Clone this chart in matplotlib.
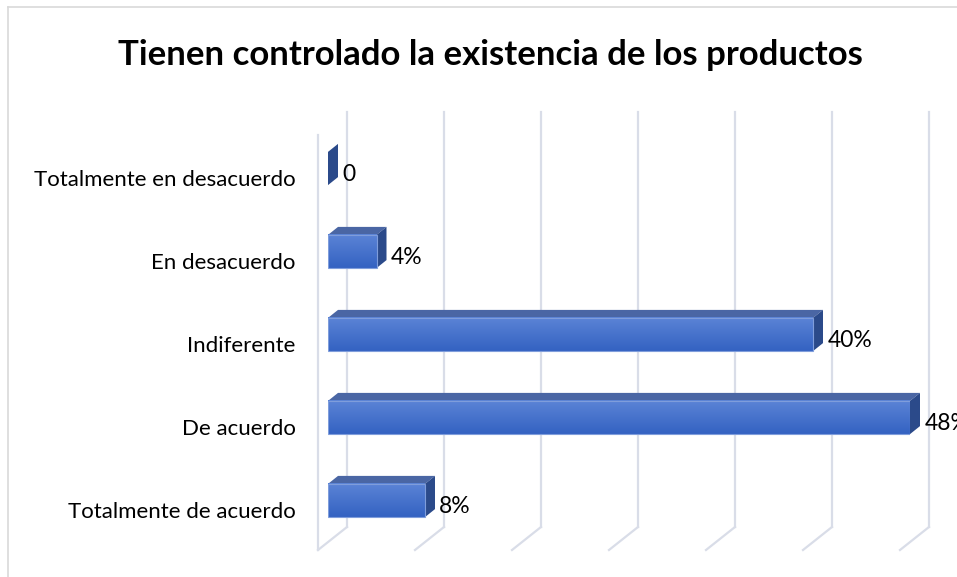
import matplotlib.pyplot as plt
import matplotlib.colors as mcolors
from matplotlib.patches import Polygon, Rectangle
import numpy as np

plt.rcParams['font.family'] = ['Lato', 'DejaVu Sans']

# data
categories = ['Totalmente de acuerdo', 'De acuerdo', 'Indiferente',
              'En desacuerdo', 'Totalmente en desacuerdo']
values = [8, 48, 40, 4, 0]
value_labels = ['8%', '48%', '40%', '4%', '0']
grid_ticks = [0, 8, 16, 24, 32, 40, 48]
title = 'Tienen controlado la existencia de los productos'

W, H = 957, 577
fig = plt.figure(figsize=(W / 100, H / 100), dpi=100)

# axes = front plane of the bars
left_px, right_px = 328, 910
top_px, bot_px = 127, 542
ax = fig.add_axes([left_px / W, 1 - bot_px / H,
                   (right_px - left_px) / W, (bot_px - top_px) / H])
ax.set_xlim(0, 48)
ax.set_ylim(-0.5, 4.5)
ax.axis('off')

px_x = (right_px - left_px) / 48.0   # pixels per x unit
px_y = (bot_px - top_px) / 5.0       # pixels per y unit

def off(dx_px, dy_px):
    return dx_px / px_x, dy_px / px_y

back = off(19, 15)      # back wall relative to bar front
front = off(-10, -8)    # front edge of floor
depth = off(10, 8)      # bar depth

grid_col = '#d9dde8'
for g in grid_ticks:
    # back wall gridline
    ax.plot([g + back[0], g + back[0]], [-0.5 + back[1], 4.5 + back[1]],
            color=grid_col, lw=1.6, zorder=1, clip_on=False)
    # floor diagonal
    ax.plot([g + back[0], g + front[0]], [-0.5 + back[1], -0.5 + front[1]],
            color=grid_col, lw=1.6, zorder=1, clip_on=False)
# side wall front edge
ax.plot([front[0], front[0]], [-0.5 + front[1], 4.5 + front[1]],
        color=grid_col, lw=1.6, zorder=1, clip_on=False)

bar_h = 0.4
grad = np.linspace(0, 1, 50).reshape(-1, 1)
cmap = mcolors.LinearSegmentedColormap.from_list('bar', ['#3462c2', '#5b84d6'])
top_col = '#4a66a4'
side_col = '#2b4a8a'

for i, (v, lab) in enumerate(zip(values, value_labels)):
    y0, y1 = i - bar_h / 2, i + bar_h / 2
    dx, dy = depth
    # top face
    ax.add_patch(Polygon([(0, y1), (v, y1), (v + dx, y1 + dy), (dx, y1 + dy)],
                         closed=True, facecolor=top_col, edgecolor='none',
                         zorder=3, clip_on=False))
    # side face
    ax.add_patch(Polygon([(v, y0), (v, y1), (v + dx, y1 + dy), (v + dx, y0 + dy)],
                         closed=True, facecolor=side_col, edgecolor='none',
                         zorder=3, clip_on=False))
    # front face with gradient
    if v > 0:
        ax.imshow(grad, extent=(0, v, y0, y1), origin='lower', cmap=cmap,
                  aspect='auto', zorder=4, interpolation='bilinear')
        ax.add_patch(Rectangle((0, y0), v, bar_h, facecolor='none',
                               edgecolor='#7f9ddb', lw=0.8, zorder=5))
    ax.text(v + dx + 0.35, i - 0.07, lab, ha='left', va='center', fontsize=16.5,
            color='#000000', zorder=6, clip_on=False)

ax.set_xlim(0, 48)
ax.set_ylim(-0.5, 4.5)

for i, c in enumerate(categories):
    ax.text(-2.65, i - 0.14, c, ha='right', va='center', fontsize=16,
            color='#000000', clip_on=False)

fig.text(490 / W, 1 - 55 / H, title, ha='center', va='center',
         fontsize=25, fontweight='bold', color='#000000')

# chart area border (left and top)
fig.add_artist(plt.Line2D([8 / W, 8 / W], [0, 1 - 7 / H], transform=fig.transFigure,
                          color='#d9d9d9', lw=1.2))
fig.add_artist(plt.Line2D([8 / W, 1], [1 - 7 / H, 1 - 7 / H], transform=fig.transFigure,
                          color='#d9d9d9', lw=1.2))

fig.savefig('out.png', dpi=100)
